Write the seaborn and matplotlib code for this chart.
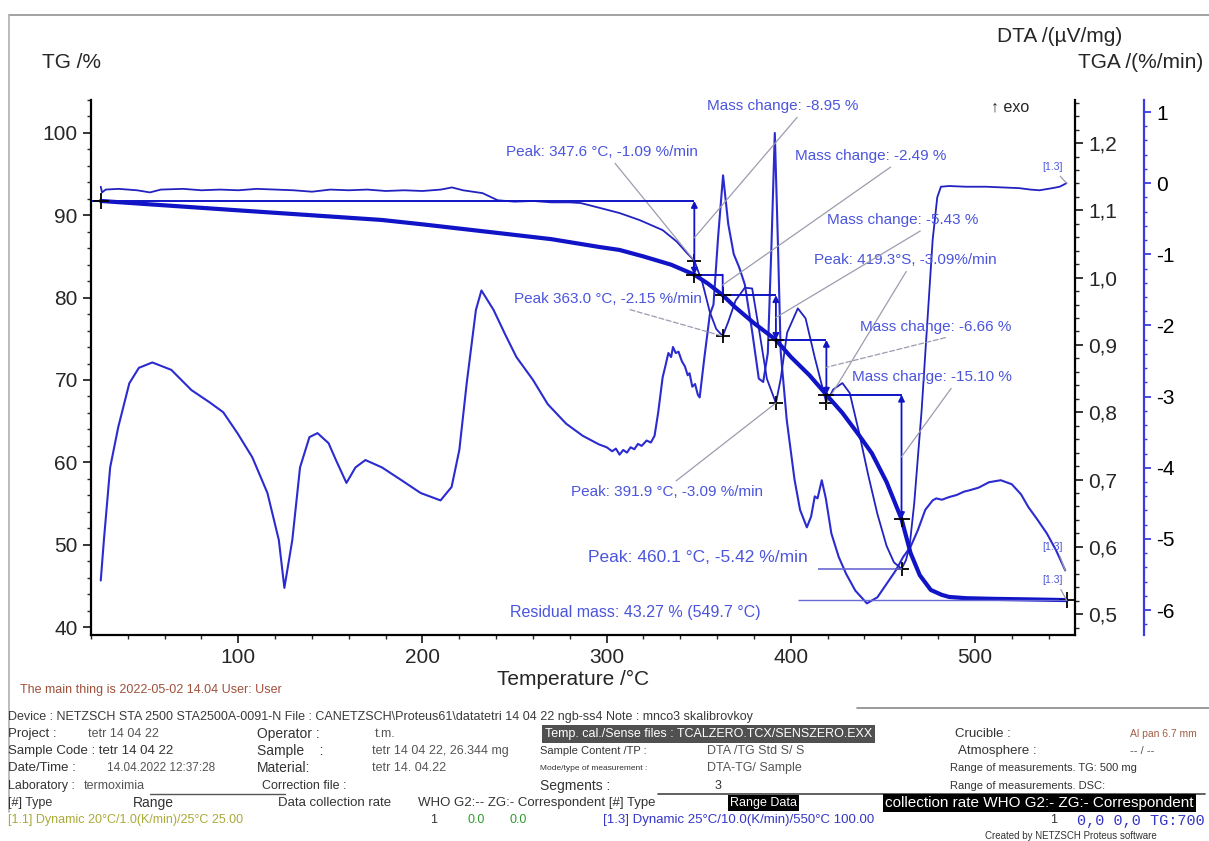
import numpy as np
import pandas as pd
import seaborn as sns
import matplotlib.pyplot as plt
from matplotlib.lines import Line2D
from matplotlib.ticker import MultipleLocator, FuncFormatter

# TG curve (%)
tg_temp = [25.3, 50, 100, 150, 178, 200, 241, 270, 296, 307, 320, 335, 347.6, 355, 363,
           370, 380, 391.9, 400, 410, 419.3, 428, 437, 444, 452, 460.1, 465, 470, 476,
           482, 486, 495, 510, 530, 549.7]
tg_mass = [91.74, 91.36, 90.6, 89.85, 89.43, 88.9, 87.85, 87.1, 86.15, 85.79, 85.0, 84.0,
           82.79, 81.7, 80.30, 78.8, 76.9, 74.87, 72.8, 70.6, 68.21, 66.0, 63.3, 61.1,
           57.6, 53.11, 49.0, 46.3, 44.5, 43.9, 43.65, 43.5, 43.42, 43.35, 43.27]

# DTA curve (uV/mg)
dta_temp = [25.3, 27, 30.4, 34.8, 40.8, 46, 53.3, 63.6, 74.5, 84.8, 91.8, 99.5, 107.6, 115.8,
            122, 125, 129.3, 133.5, 138.6, 143, 149, 153, 158.7, 163.6, 169, 178, 188.6, 199,
            209.8, 215.8, 220, 224, 229, 232, 238.6, 245, 251, 260, 268, 278, 287, 296,
            300, 303, 305, 307, 309, 311, 313, 315, 317, 319, 321.7, 324, 326, 328, 330.4,
            332, 333.5, 335, 336, 337.5, 339, 340.8, 342.5, 344, 345, 346.5, 348, 349.5,
            350.5, 353, 356, 358, 360.5, 363.2, 366, 369, 372, 375, 379, 382.6, 385, 387.5,
            389.5, 391.3, 393, 394.5, 397.8, 402, 405, 408.7, 411, 413, 414.5, 416.8, 419,
            422, 426, 430, 435, 441.3, 447, 452, 457, 461, 465, 469, 473, 477, 479, 482,
            486, 490, 494, 497, 502, 507.6, 514, 520, 525, 529, 534, 539, 544, 549]
dta_val = [0.550, 0.610, 0.718, 0.778, 0.843, 0.866, 0.874, 0.863, 0.833, 0.814, 0.800, 0.769,
           0.733, 0.680, 0.610, 0.539, 0.610, 0.718, 0.763, 0.769, 0.754, 0.729, 0.695, 0.718,
           0.729, 0.718, 0.699, 0.680, 0.669, 0.689, 0.744, 0.843, 0.952, 0.981, 0.952, 0.915,
           0.882, 0.848, 0.812, 0.783, 0.765, 0.752,
           0.748, 0.742, 0.746, 0.737, 0.744, 0.740, 0.748, 0.745, 0.753, 0.750, 0.758, 0.755,
           0.765, 0.800, 0.852, 0.870, 0.888, 0.882, 0.897, 0.888, 0.890, 0.876, 0.868, 0.855,
           0.858, 0.838, 0.842, 0.826, 0.822, 0.880, 0.945, 0.960, 1.060, 1.152, 1.080, 1.035,
           1.015, 0.990, 0.920, 0.850, 0.845, 0.888, 1.050, 1.215, 1.050, 0.890, 0.788, 0.700,
           0.655, 0.629, 0.645, 0.675, 0.672, 0.699, 0.672, 0.620, 0.585, 0.560, 0.535, 0.516,
           0.525, 0.545, 0.565, 0.585, 0.600, 0.625, 0.655, 0.669, 0.672, 0.670, 0.674, 0.677,
           0.682, 0.684, 0.688, 0.696, 0.699, 0.693, 0.678, 0.659, 0.640, 0.620, 0.595, 0.565]

# TGA (DTG) curve (%/min)
dtg_temp = [25.3, 26, 28, 35, 45, 52, 58, 70, 80, 90, 100, 110, 120, 130, 140, 150, 160, 170,
            180, 190, 200, 210, 216, 222, 232.6, 240.8, 250, 260, 270, 280, 286, 296.6, 307,
            318, 330.4, 338, 343.5, 347.6, 352, 356, 359.5, 363, 366, 370, 375, 379, 383, 387,
            391.9, 394.5, 398, 403.8, 408, 413, 419.3, 423, 428, 432, 437, 442, 447, 452, 456,
            460.1, 462.5, 464.5, 467, 471, 474, 477, 479.5, 481.5, 486, 495, 506, 515, 524,
            530, 535, 542, 546, 549.7]
dtg_val = [-0.05, -0.13, -0.09, -0.08, -0.10, -0.13, -0.09, -0.08, -0.10, -0.09, -0.10, -0.08,
           -0.09, -0.10, -0.12, -0.09, -0.10, -0.09, -0.11, -0.10, -0.11, -0.09, -0.06, -0.10,
           -0.14, -0.24, -0.26, -0.25, -0.27, -0.27, -0.28, -0.35, -0.42, -0.52, -0.66, -0.82,
           -0.98, -1.09, -1.40, -1.81, -2.05, -2.15, -1.95, -1.65, -1.47, -1.48, -2.10, -2.75,
           -3.09, -2.75, -2.10, -1.76, -1.90, -2.45, -3.09, -2.90, -2.81, -2.95, -3.50, -4.10,
           -4.65, -5.10, -5.33, -5.42, -5.30, -5.10, -4.50, -3.20, -2.00, -0.80, -0.20, -0.05,
           -0.04, -0.05, -0.05, -0.06, -0.07, -0.09, -0.10, -0.07, -0.05, 0.00]

# evaluation results
step_temp = [347.6, 363.0, 391.9, 419.3, 460.1]
step_start = [91.74, 82.79, 80.30, 74.87, 68.21]
mass_change = [-8.95, -2.49, -5.43, -6.66, -15.10]
peak_temp = [347.6, 363.0, 391.9, 419.3, 460.1]
peak_rate = [-1.09, -2.15, -3.09, -3.09, -5.42]
residual_temp = 549.7
residual_mass = 43.27

W, H = 1209, 841


def fx(x):
    return x / W


def fy(y):
    return 1 - y / H


sns.set_style('white')
plt.rcParams['font.family'] = ['Liberation Sans', 'DejaVu Sans']
plt.rcParams['axes.unicode_minus'] = False

TG_BLUE = '#1014c6'
LINE_BLUE = '#2b2bd0'
DTG_BLUE = '#2222c0'
TXT_BLUE = '#4b55dc'
LEAD = '#9c9cae'

fig = plt.figure(figsize=(12.09, 8.41), dpi=100)
ax = fig.add_axes([fx(91), fy(635), (1075 - 91) / W, (635 - 100) / H])
ax2 = ax.twinx()
ax3 = ax.twinx()

sns.lineplot(x=dta_temp, y=dta_val, ax=ax2, color=LINE_BLUE, lw=1.5, sort=False, estimator=None)
sns.lineplot(x=dtg_temp, y=dtg_val, ax=ax3, color=DTG_BLUE, lw=1.3, sort=False, estimator=None)
sns.lineplot(x=tg_temp, y=tg_mass, ax=ax, color=TG_BLUE, lw=3.0, sort=False, estimator=None)

ax.set_xlim(20, 554.3)
ax.set_ylim(39.03, 104.0)
ax2.set_ylim(0.469, 1.264)
ax3.set_ylim(-6.351, 1.169)

ax.set_zorder(3)
ax.patch.set_visible(False)
ax3.set_zorder(2)
ax2.set_zorder(1)

# spines
ax.spines['top'].set_visible(False)
ax.spines['right'].set_visible(False)
for s in ['left', 'bottom']:
    ax.spines[s].set_linewidth(1.6)
    ax.spines[s].set_color('black')
for a in (ax2, ax3):
    for s in ['left', 'top', 'bottom']:
        a.spines[s].set_visible(False)
ax2.spines['right'].set_linewidth(1.6)
ax2.spines['right'].set_color('black')
ax3.spines['right'].set_position(('outward', 50))
ax3.spines['right'].set_linewidth(1.6)
ax3.spines['right'].set_color('#3b3be0')

# ticks
ax.xaxis.set_major_locator(MultipleLocator(100))
ax.xaxis.set_minor_locator(MultipleLocator(20))
ax.yaxis.set_major_locator(MultipleLocator(10))
ax.yaxis.set_minor_locator(MultipleLocator(2))
ax.tick_params(which='major', labelsize=15, direction='out', length=6, width=1.3, left=True, bottom=True)
ax.tick_params(which='minor', direction='out', length=3, width=1, left=True, bottom=True)

ax2.yaxis.set_major_locator(MultipleLocator(0.1))
ax2.yaxis.set_minor_locator(MultipleLocator(0.02))
ax2.yaxis.set_major_formatter(FuncFormatter(lambda v, p: f'{v:.1f}'.replace('.', ',')))
ax2.tick_params(which='major', labelsize=15, direction='out', length=6, width=1.3, right=True)
ax2.tick_params(which='minor', direction='out', length=3, width=1, right=True)

ax3.yaxis.set_major_locator(MultipleLocator(1))
ax3.yaxis.set_minor_locator(MultipleLocator(0.2))
ax3.yaxis.set_major_formatter(FuncFormatter(lambda v, p: f'{v:.0f}'))
ax3.tick_params(which='major', labelsize=15, direction='out', length=5, width=1.3, right=True,
                color='#3b3be0', labelcolor='black')
ax3.tick_params(which='minor', direction='out', length=2.5, width=1, right=True, color='#3b3be0')

for a in (ax, ax2, ax3):
    a.set_xlabel('')
    a.set_ylabel('')

# axis titles
fig.text(fx(42), fy(62), 'TG /%', fontsize=15, va='center', ha='left')
fig.text(fx(997), fy(36), 'DTA /(\u00b5V/mg)', fontsize=15, va='center', ha='left')
fig.text(fx(1078), fy(62), 'TGA /(%/min)', fontsize=15, va='center', ha='left')
fig.text(fx(573), fy(679), 'Temperature /\u00b0C', fontsize=15, va='center', ha='center')
fig.text(fx(991), fy(107), '\u2191 exo', fontsize=11.5, va='center', ha='left')

# mass step construction on TG
tg_after = [s + m for s, m in zip(step_start, mass_change)]
ax.hlines(step_start, [20] + step_temp[:-1], step_temp, color=TG_BLUE, lw=1.4)
for i, t in enumerate(step_temp):
    style = '-' if i == 1 else '<|-|>'
    ax.annotate('', xy=(t, step_start[i]), xytext=(t, tg_after[i]),
                arrowprops=dict(arrowstyle=style, color=TG_BLUE, lw=1.3, mutation_scale=9,
                                shrinkA=0, shrinkB=0))
ax.plot([tg_temp[0]] + step_temp + [residual_temp], [tg_mass[0]] + tg_after + [residual_mass],
        '+', color='black', ms=11, mew=1.3)
ax.hlines(residual_mass, 403.8, residual_temp, color='#6a6ad4', lw=1.0)
ax3.plot(peak_temp, peak_rate, '+', color='black', ms=10, mew=1.3)
ax3.hlines(peak_rate[-1], 414.7, peak_temp[-1], color='#6a6ad4', lw=1.2)


def note(axis, text, xy, tx, ty, size=11, dashed=False, rel=(0.62, 0.0)):
    axis.annotate(text, xy=xy, xycoords='data', xytext=(fx(tx), fy(ty)),
                  textcoords='figure fraction', ha='left', va='center', fontsize=size,
                  color=TXT_BLUE,
                  arrowprops=dict(arrowstyle='-', color=LEAD, lw=0.9,
                                  ls=(0, (4, 2)) if dashed else '-',
                                  shrinkA=1, shrinkB=0, relpos=rel))


mid = [(a + b) / 2 for a, b in zip(step_start, tg_after)]
note(ax, f'Mass change: {mass_change[0]:.2f} %', (step_temp[0], mid[0]), 707, 106)
note(ax3, 'Peak: 347.6 \u00b0C, -1.09 %/min', (peak_temp[0], peak_rate[0]), 506, 152, rel=(0.55, 0))
note(ax, f'Mass change: {mass_change[1]:.2f} %', (step_temp[1], mid[1]), 795, 156, rel=(0.67, 0))
note(ax, f'Mass change: {mass_change[2]:.2f} %', (step_temp[2], mid[2]), 827, 220, rel=(0.66, 0))
note(ax3, 'Peak: 419.3\u00b0S, -3.09%/min', (peak_temp[3], peak_rate[3]), 814, 260, rel=(0.52, 0))
note(ax3, 'Peak 363.0 \u00b0C, -2.15 %/min', (peak_temp[1], peak_rate[1]), 514, 299, dashed=True,
     rel=(0.55, 0))
note(ax, f'Mass change: {mass_change[3]:.2f} %', (step_temp[3], mid[3]), 860, 327, dashed=True,
     rel=(0.66, 0))
note(ax, f'Mass change: {mass_change[4]:.2f} %', (step_temp[4], mid[4]), 852, 377, rel=(0.64, 0))
note(ax3, 'Peak: 391.9 \u00b0C, -3.09 %/min', (peak_temp[2], peak_rate[2]), 571, 492, rel=(0.52, 1))
fig.text(fx(588), fy(557), 'Peak: 460.1 \u00b0C, -5.42 %/min', fontsize=12.5, color=TXT_BLUE,
         va='center', ha='left')
fig.text(fx(510), fy(612), f'Residual mass: {residual_mass:.2f} % ({residual_temp:.1f} \u00b0C)',
         fontsize=11.5, color=TXT_BLUE, va='center', ha='left')

note(ax3, '[1.3]', (dtg_temp[-1], dtg_val[-1]), 1042, 167, size=7.5, rel=(0.7, 0))
note(ax2, '[1.3]', (dta_temp[-1], dta_val[-1]), 1042, 547, size=7.5, rel=(0.8, 0))
note(ax, '[1.3]', (residual_temp, residual_mass), 1042, 580, size=7.5, rel=(0.8, 0))

# page frame
fig.add_artist(Line2D([fx(9), 1], [fy(15), fy(15)], color='#9a9a9a', lw=1.3, transform=fig.transFigure))
fig.add_artist(Line2D([fx(9), fx(9)], [fy(15), fy(812)], color='#b0b0b0', lw=1.2, transform=fig.transFigure))
fig.add_artist(Line2D([fx(857), fx(1209)], [fy(708), fy(708)], color='#8a8a8a', lw=1.2, transform=fig.transFigure))
fig.add_artist(Line2D([fx(150), fx(285)], [fy(794), fy(794)], color='#555555', lw=1.0, transform=fig.transFigure))
fig.add_artist(Line2D([fx(658), fx(1205)], [fy(794), fy(794)], color='#444444', lw=1.2, transform=fig.transFigure))

# info block
DARK = '#333333'
GREY = '#555555'
info = [
    (20, 690, 'The main thing is 2022-05-02 14.04 User: User', 9, '#a0503a'),
    (8, 717, r'Device : NETZSCH STA 2500 STA2500A-0091-N File : CANETZSCH\Proteus61\datatetri 14 04 22 ngb-ss4 Note : mnco3 skalibrovkoy', 9, '#3a3a3a'),
    (8, 734, 'Project :', 9.5, DARK),
    (88, 734, 'tetr 14 04 22', 9, GREY),
    (257, 734, 'Operator :', 10, DARK),
    (375, 734, 't.m.', 9, GREY),
    (955, 734, 'Crucible :', 9.5, DARK),
    (1130, 734, 'Al pan 6.7 mm', 7.5, '#a0604a'),
    (8, 751, 'Sample Code : tetr 14 04 22', 9.5, DARK),
    (257, 751, 'Sample    :', 10, DARK),
    (372, 751, 'tetr 14 04 22, 26.344 mg', 9, GREY),
    (540, 751, 'Sample Content /TP :', 8, DARK),
    (707, 751, 'DTA /TG Std S/ S', 9, GREY),
    (958, 751, 'Atmosphere :', 9.5, DARK),
    (1130, 751, '-- / --', 8, GREY),
    (8, 768, 'Date/Time :', 9.5, DARK),
    (107, 768, '14.04.2022 12:37:28', 8.5, GREY),
    (257, 768, 'Material:', 10, DARK),
    (372, 768, 'tetr 14. 04.22', 9, GREY),
    (540, 768, 'Mode/type of measurement :', 6, DARK),
    (707, 768, 'DTA-TG/ Sample', 9, GREY),
    (950, 768, 'Range of measurements. TG: 500 mg', 8, DARK),
    (8, 786, 'Laboratory :', 9, DARK),
    (84, 786, 'termoximia', 9, GREY),
    (262, 786, 'Correction file :', 9, DARK),
    (540, 786, 'Segments :', 10, DARK),
    (715, 786, '3', 9, DARK),
    (950, 786, 'Range of measurements. DSC:', 8, DARK),
    (8, 803, '[#] Type', 9, DARK),
    (133, 803, 'Range', 10, DARK),
    (278, 803, 'Data collection rate', 9.5, DARK),
    (418, 803, 'WHO G2:-- ZG:- Correspondent [#] Type', 9.5, DARK),
    (8, 820, '[1.1] Dynamic 20\u00b0C/1.0(K/min)/25\u00b0C 25.00', 9, '#aaaa3a'),
    (430, 820, '1', 9, DARK),
    (468, 820, '0.0', 9, '#2e9a2e'),
    (510, 820, '0.0', 9, '#2e9a2e'),
    (603, 820, '[1.3] Dynamic 25\u00b0C/10.0(K/min)/550\u00b0C 100.00', 9.5, '#3535c8'),
    (1050, 820, '1', 9, DARK),
    (985, 836, 'Created by NETZSCH Proteus software', 7, DARK),
]
for x, y, s, size, c in info:
    fig.text(fx(x), fy(y), s, fontsize=size, color=c, va='center', ha='left')

fig.text(fx(545), fy(734), 'Temp. cal./Sense files : TCALZERO.TCX/SENSZERO.EXX', fontsize=9,
         color='white', va='center', ha='left',
         bbox=dict(facecolor='#505050', edgecolor='none', pad=2))
fig.text(fx(730), fy(803), 'Range Data', fontsize=9, color='white', va='center', ha='left',
         bbox=dict(facecolor='black', edgecolor='none', pad=1.5))
fig.text(fx(885), fy(803), 'collection rate WHO G2:- ZG:- Correspondent', fontsize=11,
         color='white', va='center', ha='left',
         bbox=dict(facecolor='black', edgecolor='none', pad=1.5))
fig.text(fx(1077), fy(821), '0,0 0,0 TG:700', fontsize=11, color='#3535c8', va='center',
         ha='left', family=['Liberation Mono', 'DejaVu Sans Mono'])

fig.savefig('out.png', dpi=100, facecolor='white')
